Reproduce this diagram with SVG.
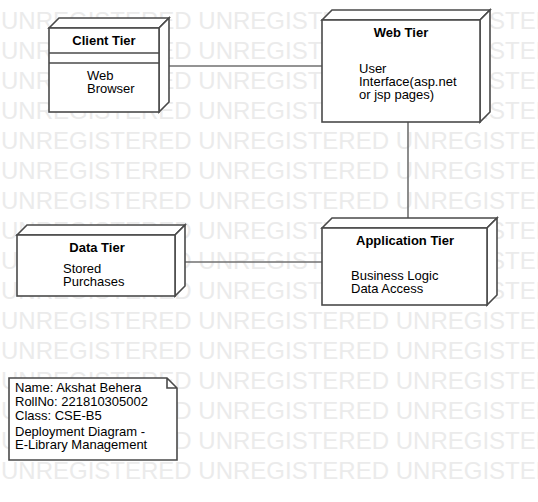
<svg xmlns="http://www.w3.org/2000/svg" width="538" height="502" viewBox="0 0 538 502">
<style>
.wm{font-family:"Liberation Sans",Arial,sans-serif;font-size:24px;fill:#ebebeb}
.n{fill:#fff;stroke:#4a4a4a;stroke-width:1.6}
.t{font-family:"Liberation Sans",Arial,sans-serif;font-size:13px;fill:#000}
.b{font-weight:bold;text-anchor:middle}
.c{stroke:#707070;stroke-width:1.6;fill:none}
</style>
<rect width="538" height="502" fill="#fff"/>
<g id="watermark">
<text class="wm" x="1" y="29">UNREGISTERED UNREGISTERED UNREGISTERED</text>
<text class="wm" x="1" y="59">UNREGISTERED UNREGISTERED UNREGISTERED</text>
<text class="wm" x="1" y="89">UNREGISTERED UNREGISTERED UNREGISTERED</text>
<text class="wm" x="1" y="119">UNREGISTERED UNREGISTERED UNREGISTERED</text>
<text class="wm" x="1" y="149">UNREGISTERED UNREGISTERED UNREGISTERED</text>
<text class="wm" x="1" y="179">UNREGISTERED UNREGISTERED UNREGISTERED</text>
<text class="wm" x="1" y="209">UNREGISTERED UNREGISTERED UNREGISTERED</text>
<text class="wm" x="1" y="239">UNREGISTERED UNREGISTERED UNREGISTERED</text>
<text class="wm" x="1" y="269">UNREGISTERED UNREGISTERED UNREGISTERED</text>
<text class="wm" x="1" y="299">UNREGISTERED UNREGISTERED UNREGISTERED</text>
<text class="wm" x="1" y="329">UNREGISTERED UNREGISTERED UNREGISTERED</text>
<text class="wm" x="1" y="359">UNREGISTERED UNREGISTERED UNREGISTERED</text>
<text class="wm" x="1" y="389">UNREGISTERED UNREGISTERED UNREGISTERED</text>
<text class="wm" x="1" y="419">UNREGISTERED UNREGISTERED UNREGISTERED</text>
<text class="wm" x="1" y="449">UNREGISTERED UNREGISTERED UNREGISTERED</text>
<text class="wm" x="1" y="479">UNREGISTERED UNREGISTERED UNREGISTERED</text>
</g>
<g id="connectors">
<line class="c" x1="169" y1="66" x2="322" y2="66"/>
<line class="c" x1="408" y1="122" x2="408" y2="218"/>
<line class="c" x1="185" y1="262" x2="322" y2="262"/>
</g>
<g id="client-tier">
<polygon class="n" points="49,28 59,18 169,18 159,28"/>
<polygon class="n" points="159,28 169,18 169,102 159,112"/>
<rect class="n" x="49" y="28" width="110" height="84"/>
<line class="n" x1="49" y1="53" x2="159" y2="53"/>
<line class="n" x1="49" y1="63" x2="159" y2="63"/>
<text class="t b" x="104" y="45">Client Tier</text>
<text class="t" x="87" y="80">Web</text>
<text class="t" x="87" y="93">Browser</text>
</g>
<g id="web-tier">
<polygon class="n" points="322,20 332,10 490,10 480,20"/>
<polygon class="n" points="480,20 490,10 490,112 480,122"/>
<rect class="n" x="322" y="20" width="158" height="102"/>
<text class="t b" x="401" y="37">Web Tier</text>
<text class="t" x="359" y="73">User</text>
<text class="t" x="359" y="86">Interface(asp.net</text>
<text class="t" x="359" y="99">or jsp pages)</text>
</g>
<g id="application-tier">
<polygon class="n" points="322,228 332,218 497,218 487,228"/>
<polygon class="n" points="487,228 497,218 497,295 487,305"/>
<rect class="n" x="322" y="228" width="165" height="77"/>
<text class="t b" x="405" y="245">Application Tier</text>
<text class="t" x="351" y="280">Business Logic</text>
<text class="t" x="351" y="293">Data Access</text>
</g>
<g id="data-tier">
<polygon class="n" points="17,235 27,225 185,225 175,235"/>
<polygon class="n" points="175,235 185,225 185,286 175,296"/>
<rect class="n" x="17" y="235" width="158" height="61"/>
<text class="t b" x="97" y="252">Data Tier</text>
<text class="t" x="63" y="273">Stored</text>
<text class="t" x="63" y="286">Purchases</text>
</g>
<g id="note">
<path class="n" d="M9,378 H167 L177,388 V460 H9 Z M167,378 V388 H177"/>
<text class="t" x="15" y="392">Name: Akshat Behera</text>
<text class="t" x="15" y="406">RollNo: 221810305002</text>
<text class="t" x="15" y="420">Class: CSE-B5</text>
<text class="t" x="15" y="436">Deployment Diagram -</text>
<text class="t" x="15" y="449">E-Library Management</text>
</g>
</svg>
